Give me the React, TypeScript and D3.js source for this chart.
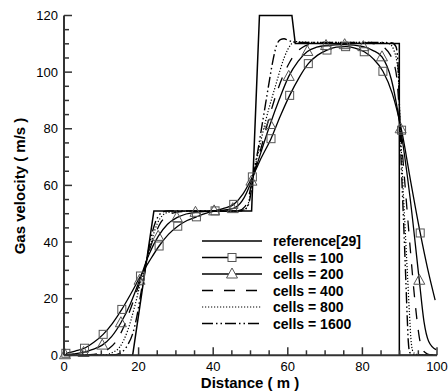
import React from "react";
import * as d3 from "d3";

const xTicks = [0, 20, 40, 60, 80, 100];
const yTicks = [0, 20, 40, 60, 80, 100, 120];
const minorStep = 5;

const legendLabels = ["reference[29]", "cells = 100", "cells = 200", "cells = 400", "cells = 800", "cells = 1600"];

const refX = [0, 18.4, 24.1, 50.3, 52.4, 61.1, 62.0, 89.9, 89.9, 100];
const refV = [0, 0, 51, 51, 120, 120, 110.1, 110.1, 0, 0];

const c100X = [0.5, 3, 5.5, 8, 10.5, 13, 15.5, 18, 20.5, 23, 25.5, 28, 30.5, 33, 35.5, 38, 40.5, 43, 45.5, 48, 50.5, 53, 55.5, 58, 60.5, 63, 65.5, 68, 70.5, 73, 75.5, 78, 80.5, 83, 85.5, 88, 90.5, 93, 95.5, 97.5, 99.5];
const c100V = [0.7, 1.5, 2.5, 4.6, 7.4, 11.3, 16.2, 21.9, 28, 33.5, 38.6, 42.7, 45.6, 47.6, 48.9, 50.1, 51, 52, 53.3, 57, 63, 70, 76.5, 84.5, 91.8, 98, 103, 106, 107.8, 108.8, 109, 108.5, 107.2, 104.6, 100.3, 92.5, 79.5, 61, 43.2, 30.5, 19.5];

const c200X = [0.25, 2.5, 5.25, 7.5, 10.25, 12.75, 15.25, 17.75, 20.25, 22.75, 25.25, 27.75, 30.25, 32.75, 35.25, 40.25, 45.25, 47.75, 50.25, 52.75, 55.25, 57.75, 60.25, 62.75, 65.25, 67.75, 70.25, 75.25, 80.25, 82.75, 85.25, 87.75, 90.25, 92.75, 95.25, 96.5, 97.75, 99.75];
const c200V = [0.2, 0.5, 1.0, 2.0, 3.6, 6.6, 11.5, 18, 26.5, 35.5, 42, 46.3, 48.6, 49.9, 50.5, 51, 51.8, 54.5, 61.5, 71.5, 81.5, 90.5, 98.5, 103.8, 107.3, 108.8, 109.4, 109.7, 109, 107.7, 105.4, 97.5, 80, 56, 26.5, 12, 5, 2];

const c400X = [0, 8, 10, 12, 14, 16, 18, 20, 21.5, 23, 24.5, 26, 28, 30, 34, 44, 47, 48.5, 49.5, 50.5, 51.5, 53, 54.5, 56, 57.5, 59, 60.5, 62, 64, 67, 72, 80, 84, 86, 87.5, 88.5, 89.3, 90, 90.7, 91.5, 92.3, 93, 93.8, 94.5, 95.3, 96, 97, 98, 100];
const c400V = [0, 0.3, 1, 2.3, 5, 10, 17, 24.5, 30.5, 37.5, 43, 47, 49.5, 50.5, 50.8, 50.8, 51.2, 52.5, 56, 62, 67, 74, 81.5, 88.5, 94.5, 99.5, 103.5, 106.5, 108.8, 110, 110.4, 110.4, 109.8, 108.5, 106, 103, 97, 84, 72, 59, 46, 35, 23, 14, 6, 2.5, 0.8, 0.2, 0];

const c800X = [0, 11, 13, 15, 17, 19, 20.5, 22, 23.5, 25, 26.5, 28, 32, 46, 48.5, 49.5, 50.3, 51, 52, 53, 54, 55, 56, 57, 58, 59, 60, 61, 62, 64, 70, 80, 86, 87.5, 88.5, 89.2, 89.7, 90.1, 90.6, 91.1, 91.6, 92.1, 92.6, 93, 93.5, 94.5, 100];
const c800V = [0, 0.2, 1, 3, 8.5, 17.5, 25.5, 32.5, 40.5, 46.5, 49.5, 50.5, 50.8, 50.8, 51.5, 54, 60, 65.5, 71, 77, 82.5, 87.5, 92, 96.5, 101, 105, 108, 110, 110.8, 110.6, 110.5, 110.5, 110.4, 109.8, 107.5, 104, 98, 82, 68, 54, 41, 28, 15, 6, 1.5, 0.3, 0];

const c1600X = [0, 13, 15, 17, 18.5, 19.5, 20.5, 21.5, 22.5, 23.5, 24.5, 25.5, 26.5, 28, 32, 47, 49, 49.8, 50.5, 51.2, 52, 53, 54, 55, 56, 57, 58, 59, 60, 61, 63, 70, 85, 88, 89, 89.5, 90, 90.4, 90.8, 91.2, 91.6, 92, 92.3, 92.7, 93.5, 100];
const c1600V = [0, 0.1, 0.7, 3.5, 8, 13.5, 21, 28.5, 36, 42.5, 47, 49.5, 50.6, 51, 51, 51, 52, 55, 61, 67, 72.5, 80.5, 88.5, 96.5, 104, 109.5, 111.5, 111.8, 111.3, 110.8, 110.5, 110.5, 110.5, 110.3, 109, 104, 84, 68, 55, 42, 28, 14, 5, 1, 0.2, 0];

const FONT = "'Liberation Sans', Arial, Helvetica, sans-serif";

type Pt = [number, number];
const zip = (xs: number[], vs: number[]): Pt[] => xs.map((x, i) => [x, vs[i]]);

export default function App() {
  const W = 448, H = 392;
  const x = d3.scaleLinear().domain([0, 100]).range([64, 437]);
  const y = d3.scaleLinear().domain([0, 120]).range([355.3, 15.5]);

  const linLine = d3.line<Pt>().x(d => x(d[0])).y(d => y(d[1]));
  const smoothLine = d3.line<Pt>().x(d => x(d[0])).y(d => y(d[1])).curve(d3.curveMonotoneX);

  const ref = zip(refX, refV);
  const s100 = zip(c100X, c100V);
  const s200 = zip(c200X, c200V);
  const s400 = zip(c400X, c400V);
  const s800 = zip(c800X, c800V);
  const s1600 = zip(c1600X, c1600V);

  const m100 = s100.filter(d => Math.abs(((d[0] - 0.5) % 5)) < 1e-6);
  const m200 = s200.filter(d => Math.abs(((d[0] - 0.25) % 5)) < 1e-6);

  const axisColor = "#333";
  const markColor = "#555";
  const sq = 8;
  const tri = (cx: number, cy: number, s: number) =>
    `M${cx},${cy - s * 0.6}L${cx + s * 0.55},${cy + s * 0.4}L${cx - s * 0.55},${cy + s * 0.4}Z`;

  const xMinor = d3.range(0, 100 + 1e-9, minorStep);
  const yMinor = d3.range(0, 120 + 1e-9, minorStep);

  const styles = [
    { dash: "none", w: 1.5 },
    { dash: "none", w: 1.3 },
    { dash: "none", w: 1.3 },
    { dash: "11,11", w: 1.3 },
    { dash: "1.2,1.8", w: 1.2 },
    { dash: "11,3,1.5,3,1.5,3", w: 1.4 },
  ];
  const legX1 = 202, legX2 = 262, legTextX = 273;
  const legY0 = 241, legDy = 16.5;

  return (
    <svg width={W} height={H} style={{ position: "absolute", left: 0, top: 0, background: "#fff" }} fontFamily={FONT}>
      <rect width={W} height={H} fill="#fff" />
      {/* curves */}
      <path d={linLine(ref) || ""} fill="none" stroke="#000" strokeWidth={styles[0].w} />
      <path d={smoothLine(s100) || ""} fill="none" stroke="#000" strokeWidth={styles[1].w} />
      <path d={smoothLine(s200) || ""} fill="none" stroke="#000" strokeWidth={styles[2].w} />
      <path d={smoothLine(s400) || ""} fill="none" stroke="#000" strokeWidth={styles[3].w} strokeDasharray={styles[3].dash} />
      <path d={smoothLine(s800) || ""} fill="none" stroke="#000" strokeWidth={styles[4].w} strokeDasharray={styles[4].dash} />
      <path d={smoothLine(s1600) || ""} fill="none" stroke="#000" strokeWidth={styles[5].w} strokeDasharray={styles[5].dash} />
      {m100.map((d, i) => (
        <rect key={"s" + i} x={x(d[0]) - sq / 2} y={y(d[1]) - sq / 2} width={sq} height={sq} fill="none" stroke={markColor} strokeWidth={1} />
      ))}
      {m200.map((d, i) => (
        <path key={"t" + i} d={tri(x(d[0]), y(d[1]), 10)} fill="none" stroke={markColor} strokeWidth={1} />
      ))}

      {/* axes */}
      <line x1={x(0)} x2={x(100)} y1={y(0)} y2={y(0)} stroke={axisColor} strokeWidth={2} />
      <line x1={x(0)} x2={x(0)} y1={y(0)} y2={y(120)} stroke={axisColor} strokeWidth={2} />
      {xMinor.map((t, i) => (
        <line key={"xm" + i} x1={x(t)} x2={x(t)} y1={y(0)} y2={y(0) - (t % 20 === 0 ? 8 : 5)} stroke={axisColor} strokeWidth={1.5} />
      ))}
      {yMinor.map((t, i) => (
        <line key={"ym" + i} x1={x(0)} x2={x(0) + (t % 20 === 0 ? 8 : 5)} y1={y(t)} y2={y(t)} stroke={axisColor} strokeWidth={1.5} />
      ))}
      {xTicks.map((t, i) => (
        <text key={"xt" + i} x={x(t)} y={371} textAnchor="middle" fontSize={13} fill="#000">{t}</text>
      ))}
      {yTicks.map((t, i) => (
        <text key={"yt" + i} x={58} y={y(t) + 4.7} textAnchor="end" fontSize={13} fill="#000">{t}</text>
      ))}
      <text x={250} y={388} textAnchor="middle" fontSize={15} fontWeight="bold" fill="#000">Distance ( m )</text>
      <text transform={`translate(25,186) rotate(-90)`} textAnchor="middle" fontSize={15} fontWeight="bold" fill="#000">Gas velocity ( m/s )</text>

      {/* legend */}
      {legendLabels.map((lab, i) => {
        const ly = legY0 + i * legDy;
        const st = styles[i];
        return (
          <g key={"lg" + i}>
            <line x1={legX1} x2={legX2} y1={ly} y2={ly} stroke="#000" strokeWidth={st.w} strokeDasharray={st.dash} />
            {i === 1 && <rect x={(legX1 + legX2) / 2 - sq / 2} y={ly - sq / 2} width={sq} height={sq} fill="#fff" stroke={markColor} />}
            {i === 2 && <path d={tri((legX1 + legX2) / 2, ly, 10)} fill="#fff" stroke={markColor} />}
            <text x={legTextX} y={ly + 5} fontSize={14} fontWeight="bold" fill="#000">{lab}</text>
          </g>
        );
      })}
    </svg>
  );
}
